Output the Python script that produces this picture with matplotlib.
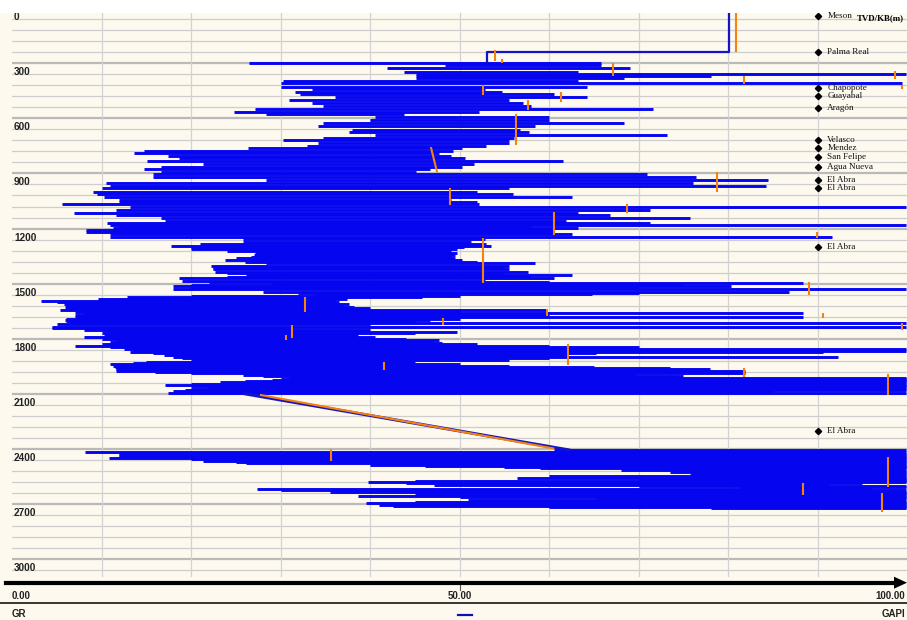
import matplotlib
matplotlib.use('Agg')
import matplotlib.pyplot as plt
import matplotlib.transforms as mtransforms
from matplotlib.patches import Polygon, Rectangle
from matplotlib.lines import Line2D

W, H = 907, 620
BG = '#fdf9ee'
BLUE = '#0505f0'
LBLUE = '#1414c4'
ORANGE = '#f5820f'

# ---------------- data ----------------
# GR log: for each depth row, the span the (very dense) curve covers
row_depth = [296, 309, 327, 345, 360, 370, 378, 394, 409, 427, 442, 454, 467, 482, 500, 518, 532, 549, 563, 576,
             594, 609, 623, 642, 663, 676, 690, 709, 718, 736, 748, 760, 776, 790, 803, 818, 832, 850, 863, 878,
             890, 903, 918, 936, 954, 967, 981, 999, 1013, 1027, 1045, 1056, 1067, 1081, 1099, 1117, 1126, 1141,
             1159, 1172, 1180, 1190, 1199, 1210, 1221, 1232, 1245, 1258, 1272, 1283, 1294, 1303, 1312, 1323, 1335,
             1345, 1354, 1363, 1372, 1381, 1390, 1404, 1413, 1423, 1435, 1444, 1453, 1462, 1472, 1484, 1492, 1499,
             1506, 1513, 1522, 1532, 1544, 1552, 1559, 1566, 1572, 1584, 1595, 1603, 1611, 1618, 1626, 1635, 1644,
             1653, 1662, 1673, 1684, 1692, 1699, 1706, 1713, 1722, 1735, 1744, 1753, 1762, 1771, 1780, 1793, 1800,
             1808, 1817, 1826, 1832, 1839, 1848, 1857, 1866, 1873, 1880, 1890, 1898, 1908, 1917, 1926, 1935, 1941,
             1948, 1955, 1962, 1968, 1975, 1982, 1989, 1998, 2005, 2013, 2020, 2026, 2032, 2038, 2046, 2053, 2060,
             2066, 2073, 2080, 2088, 2095,
             2407, 2420, 2428, 2436, 2444, 2452, 2458, 2465, 2472, 2480, 2487, 2494, 2500, 2507, 2516, 2525, 2534,
             2543, 2550, 2558, 2565, 2571, 2577, 2583, 2590, 2598, 2605, 2612, 2621, 2627, 2634, 2643, 2650, 2656,
             2663, 2670, 2680, 2690, 2698, 2705, 2712, 2720, 2725]
row_gr_lo = [26.5, 48.4, 41.9, 43.8, 45.1, 45.1, 45.1, 30.3, 30.0, 30.0, 33.5, 31.6, 32.2, 36.1, 30.9, 33.5, 34.8, 27.1, 24.8, 28.4,
             40.6, 40.0, 34.8, 34.2, 38.0, 37.7, 40.6, 34.8, 30.3, 34.2, 33.0, 26.4, 14.8, 13.6, 17.4, 18.7, 15.1, 21.3, 16.7, 14.7,
             16.7, 15.8, 15.8, 28.4, 10.5, 10.9, 10.0, 9.0, 9.5, 10.3, 11.9, 12.0, 5.6, 13.2, 11.6, 6.9, 11.6, 16.7,
             17.1, 10.6, 11.0, 12.0, 11.3, 8.3, 8.3, 10.9, 10.9, 25.8, 25.8, 21.0, 17.8, 20.0, 20.0, 24.0, 27.1,
             27.0, 26.7, 25.0, 23.8, 26.0, 28.4, 22.2, 22.5, 22.5, 22.7, 24.0, 26.1, 24.0, 18.7, 19.0, 22.0, 29.0,
             20.0, 18.0, 20.0, 18.0, 28.0, 32.0, 33.8, 20.0, 12.9, 9.6, 3.2, 5.0, 5.8, 6.0, 5.9, 6.0, 5.4,
             7.0, 8.0, 7.0, 7.0, 6.0, 5.9, 6.0, 6.4, 5.0, 4.5, 4.5, 8.0, 10.3, 10.0, 10.3, 8.0, 10.0,
             11.6, 11.0, 11.9, 10.0, 7.0, 11.0, 12.5, 13.5, 13.2, 15.8, 17.0, 18.0, 19.0, 20.0, 15.0, 13.5, 11.0,
             11.3, 11.5, 11.6, 11.6, 11.6, 16.0, 20.0, 25.8, 28.0, 30.9, 30.0, 29.0, 26.0, 23.2, 20.0, 17.1, 20.0,
             21.9, 20.0, 19.3, 18.0, 17.4,
             60.6, 8.2, 12.0, 11.9, 12.0, 10.8, 20.0, 21.3, 25.0, 26.1, 40.0, 46.1, 55.0, 59.0, 68.0, 73.5, 76.0,
             75.8, 60.0, 56.4, 70.0, 76.1, 45.0, 39.8, 44.0, 47.1, 70.0, 81.3, 27.4, 30.0, 35.5, 48.4, 45.0, 38.7,
             50.0, 65.2, 51.0, 45.0, 39.5, 41.0, 42.6, 60.0, 78.1]
row_gr_hi = [65.8, 65.8, 69.0, 63.2, 99.9, 78.1, 68.4, 63.2, 99.4, 64.2, 52.9, 54.8, 60.6, 64.2, 55.5, 57.1, 58.0, 71.6, 52.2, 43.8,
             60.0, 60.0, 68.4, 58.4, 56.8, 57.8, 73.2, 56.1, 55.5, 55.5, 53.0, 50.3, 49.3, 47.7, 49.0, 50.6, 61.6, 51.6, 50.3, 46.7,
             45.1, 71.0, 76.4, 84.5, 76.1, 84.2, 55.5, 51.9, 56.0, 62.6, 49.0, 52.0, 52.2, 99.9, 71.3, 63.2, 66.8, 75.8,
             61.9, 71.3, 99.9, 58.0, 63.2, 60.6, 60.6, 62.6, 91.6, 52.9, 51.3, 53.0, 53.5, 50.5, 49.7, 49.0, 49.7,
             49.5, 49.0, 49.5, 50.3, 52.0, 58.4, 55.5, 55.0, 55.5, 57.7, 55.0, 62.6, 58.0, 60.6, 52.9, 60.0, 88.4,
             75.0, 80.3, 70.0, 99.9, 86.8, 70.0, 64.8, 50.0, 45.8, 37.4, 36.1, 36.5, 37.7, 37.0, 38.2, 40.0, 59.7,
             50.0, 88.4, 60.0, 88.4, 50.0, 46.7, 45.0, 99.9, 40.0, 99.9, 31.3, 40.0, 49.7, 45.0, 38.7, 40.6, 44.0,
             47.7, 47.0, 48.0, 52.0, 60.0, 70.0, 99.9, 99.9, 90.6, 65.2, 62.0, 92.3, 60.0, 55.5, 45.0, 41.3, 50.0,
             55.5, 65.0, 73.5, 78.0, 81.9, 81.0, 81.9, 69.7, 75.0, 99.9, 99.9, 99.9, 99.9, 99.9, 99.9, 99.9, 99.9,
             99.9, 99.9, 99.9, 85.0, 99.9,
             99.9, 99.9, 99.9, 99.9, 99.9, 99.9, 99.9, 99.9, 99.9, 99.9, 99.9, 99.9, 99.9, 99.9, 99.9, 99.9, 99.9,
             99.9, 99.9, 99.9, 99.9, 99.9, 99.9, 99.9, 95.0, 91.3, 99.9, 99.9, 96.1, 99.9, 99.9, 99.9, 99.9, 99.9,
             99.9, 99.9, 99.9, 99.9, 99.9, 99.9, 99.9, 99.9, 99.9]

# stretches of the GR curve without dense data (plain line)
top_line_depth = [25, 236, 236, 296]
top_line_gr = [80.1, 80.1, 53.1, 53.1]
gap_line_depth = [2102, 2407]
gap_line_gr = [26.1, 62.2]

# orange curve segments (depth from, depth to, GR from, GR to)
orange_d0 = [25, 227, 277, 300, 369, 342, 415, 418, 455, 500, 576, 756, 893, 979, 1067, 1110, 1219, 1252,
             1492, 1573, 1638, 1661, 1688, 1714, 1726, 1780, 1829, 1928, 1958, 1993, 2107, 2401, 2444, 2586, 2641]
orange_d1 = [238, 285, 298, 369, 413, 385, 440, 472, 509, 555, 745, 893, 1001, 1072, 1116, 1235, 1252, 1497,
             1563, 1655, 1677, 1688, 1726, 1753, 1797, 1810, 1944, 1971, 2008, 2107, 2400, 2467, 2607, 2652, 2743]
orange_g0 = [80.9, 54.0, 54.7, 67.2, 81.8, 98.7, 99.4, 52.6, 61.3, 57.6, 56.3, 46.8, 78.8, 48.9, 68.7, 60.6, 89.9, 52.6,
             89.1, 32.7, 59.8, 90.6, 48.2, 99.4, 31.3, 30.6, 62.1, 41.6, 81.8, 97.9, 27.7, 35.6, 97.9, 88.4, 97.2]
orange_g1 = [80.9, 54.0, 54.7, 67.2, 81.8, 98.7, 99.4, 52.6, 61.3, 57.6, 56.3, 47.5, 78.8, 48.9, 68.7, 60.6, 89.9, 52.6,
             89.1, 32.7, 59.8, 90.6, 48.2, 99.4, 31.3, 30.6, 62.1, 41.6, 81.8, 97.9, 60.6, 35.6, 97.9, 88.4, 97.2]

# formation tops
tops_name = ['Meson', 'Palma Real', 'Chapopote', 'Guayabal', 'Aragón', 'Velasco', 'Mendez', 'San Felipe',
             'Agua Nueva', 'El Abra', 'El Abra', 'El Abra', 'El Abra']
tops_depth = [40, 240, 436, 476, 545, 718, 763, 809, 863, 936, 981, 1302, 2304]
tops_gr = 90.1

depth_label_values = [0, 300, 600, 900, 1200, 1500, 1800, 2100, 2400, 2700, 3000]
gr_tick_values = [0, 50, 100]
gr_tick_labels = ['0.00', '50.00', '100.00']
curve_name = 'GR'
curve_unit = 'GAPI'
depth_title = 'TVD/KB(m)'

# ---------------- figure ----------------
fig = plt.figure(figsize=(W / 100, H / 100), dpi=100, facecolor=BG)


def fx(px):
    return px / W


def fy(py):
    return 1 - py / H


ax_left, ax_right, ax_top, ax_bot = 12, 907, 13, 577
ax = fig.add_axes([fx(ax_left), fy(ax_bot), (ax_right - ax_left) / W, (ax_bot - ax_top) / H])
ax.set_facecolor(BG)
ax.set_xlim(0, 100)
ax.set_ylim(3100, 25)
for s in ax.spines.values():
    s.set_visible(False)
ax.set_xticks([])
ax.set_yticks([])

# white band at the very top of the picture
fig.add_artist(Rectangle((0, fy(ax_top)), 1, 1 - fy(ax_top), transform=fig.transFigure,
                         facecolor='white', edgecolor='none', zorder=0))

# grid
for d in range(0, 3101, 60):
    major = d % 300 == 0
    ax.axhline(d, color='#b9b9b9' if major else '#cdcdcd', lw=1.6 if major else 0.9, zorder=1)
for g in range(10, 100, 10):
    ax.axvline(g, color='#d2d2d2', lw=0.9, zorder=1)

# GR curve
ax.hlines(row_depth, row_gr_lo, row_gr_hi, colors=BLUE, lw=2.1, zorder=3)
ax.plot(top_line_gr, top_line_depth, color=LBLUE, lw=1.6, zorder=3, solid_capstyle='butt')
ax.plot(gap_line_gr, gap_line_depth, color=LBLUE, lw=2.2, zorder=3)

# orange curve
for d0, d1, g0, g1 in zip(orange_d0, orange_d1, orange_g0, orange_g1):
    ax.plot([g0, g1], [d0, d1], color=ORANGE, lw=1.5, zorder=4, solid_capstyle='butt')

# formation tops
ax.plot([tops_gr] * len(tops_depth), tops_depth, ls='none', marker='D', ms=3.2, color='black', zorder=5)
for name, d in zip(tops_name, tops_depth):
    ax.text(tops_gr + 1.0, d, name, va='center', ha='left', fontsize=6.6,
            family=['Liberation Serif', 'DejaVu Serif'], color='#111111', zorder=6)
ax.text(99.7, 53, depth_title, va='center', ha='right', fontsize=6.4, fontweight='bold',
        family=['Liberation Serif', 'DejaVu Serif'], color='black', zorder=6)

# depth labels inside the track
lab_tr = mtransforms.offset_copy(ax.transData, fig=fig, x=2, y=-4, units='dots')
for d in depth_label_values:
    ax.text(0, d, str(d), transform=lab_tr, va='top', ha='left', fontsize=7.2, fontweight='bold',
            family=['Liberation Sans Narrow', 'Liberation Sans'], color='#222222', clip_on=True, zorder=6)

# ---------------- bottom scale ----------------
ay = 582.7
fig.add_artist(Line2D([fx(6), fx(897)], [fy(ay), fy(ay)], transform=fig.transFigure, color='black', lw=3.0))
fig.add_artist(Polygon([[fx(894), fy(ay - 6)], [fx(907), fy(ay)], [fx(894), fy(ay + 6)]], closed=True,
                       transform=fig.transFigure, facecolor='black', edgecolor='none'))


def gr_to_px(g):
    return ax_left + g / 100 * (ax_right - ax_left)


fig.add_artist(Line2D([fx(gr_to_px(50)), fx(gr_to_px(50))], [fy(585), fy(590)], transform=fig.transFigure,
                      color='#555555', lw=0.8))
font_narrow = ['Liberation Sans Narrow', 'Liberation Sans']
for g, lab in zip(gr_tick_values, gr_tick_labels):
    px = gr_to_px(g)
    if g == 0:
        fig.text(fx(px), fy(596), lab, ha='left', va='center', fontsize=7, fontweight='bold',
                 family=font_narrow, color='#222222')
    elif g == 100:
        fig.text(fx(px - 2), fy(596), lab, ha='right', va='center', fontsize=7, fontweight='bold',
                 family=font_narrow, color='#222222')
    else:
        fig.text(fx(px), fy(596), lab, ha='center', va='center', fontsize=7, fontweight='bold',
                 family=font_narrow, color='#222222')

fig.add_artist(Line2D([0, 1], [fy(603), fy(603)], transform=fig.transFigure, color='black', lw=1.1))
fig.text(fx(12), fy(614), curve_name, ha='left', va='center', fontsize=7, fontweight='bold',
         family=font_narrow, color='#222222')
fig.text(fx(905), fy(614), curve_unit, ha='right', va='center', fontsize=7, fontweight='bold',
         family=font_narrow, color='#222222')
fig.add_artist(Line2D([fx(458), fx(472)], [fy(615), fy(615)], transform=fig.transFigure, color='#1010b0', lw=1.6))

fig.savefig('out.png', dpi=100, facecolor=BG)
